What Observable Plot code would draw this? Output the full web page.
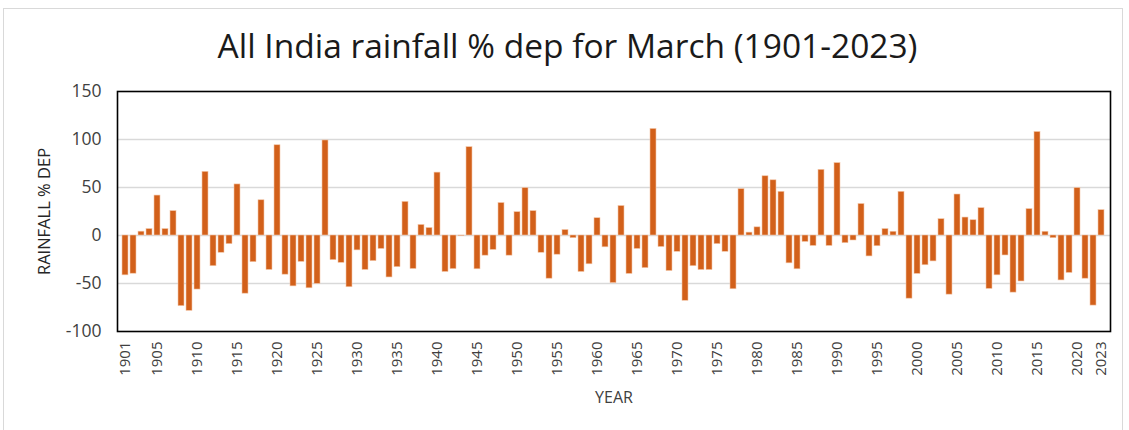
<!DOCTYPE html>
<html>
<head>
<meta charset="utf-8">
<script src="https://cdn.jsdelivr.net/npm/d3@7"></script>
<script src="https://cdn.jsdelivr.net/npm/@observablehq/plot@0.6"></script>
<style>
  html, body { margin: 0; padding: 0; background: #fff; }
  #wrap { position: relative; width: 1129px; height: 430px; overflow: hidden; }
  #border { position: absolute; left: 3px; top: 8px; width: 1120px; height: 440px; border: 1.5px solid #d9d9d9; box-sizing: border-box; }
  #chart { position: absolute; left: 0; top: 0; }
</style>
</head>
<body>
<div id="wrap"><div id="border"></div><div id="chart"></div></div>
<script>
const firstYear = 1901;
const lastYear = 2023;
const years = d3.range(firstYear, lastYear + 1);
const rainfallDep = [
  -41.5, -39.8, 4, 6.7, 41.6, 6.7, 25.4, -73.6, -78.5, -56.3,
  66.3, -32, -18, -9, 53.2, -60.6, -27.8, 36.7, -35.9, 94,
  -40.8, -53, -27.5, -55, -50.4, 99, -25.7, -28.5, -53.9, -15.5,
  -35.9, -26.7, -14, -43.7, -33, 35, -34.9, 11, 7.8, 65.5,
  -38, -35, -0.5, 92, -35.2, -21, -15, 33.8, -21, 24.3,
  49.4, 25.4, -18, -45, -20, 5.7, -2.8, -38, -30, 18,
  -12.3, -49.6, 30.7, -40, -14, -34, 111, -12, -37, -17,
  -68, -32, -36, -36, -9, -17, -56, 48.3, 3, 8.5,
  61.7, 57.5, 45.5, -29, -35.2, -6.7, -10.9, 68.4, -10.9, 75.4,
  -8, -5.2, 32.8, -21.8, -11.2, 6.7, 3.9, 45.5, -65.8, -40,
  -31, -27, 17, -61.6, 42.7, 18.7, 15.9, 28.5, -55.6, -41.5,
  -20.8, -59.5, -47.9, 27.5, 107.8, 3.9, -2.8, -46.8, -39, 49.4,
  -45, -73, 26.4
];
const xTickYears = [1901, 1905, 1910, 1915, 1920, 1925, 1930, 1935, 1940, 1945, 1950, 1955, 1960, 1965, 1970, 1975, 1980, 1985, 1990, 1995, 2000, 2005, 2010, 2015, 2020, 2023];
const yTicks = [-100, -50, 0, 50, 100, 150];
const gridValues = [-50, 0, 50, 100];
const titleText = "All India rainfall % dep for March (1901-2023)";
const yLabel = "RAINFALL % DEP";
const xLabel = "YEAR";

const data = years.map((y, i) => ({year: y, value: rainfallDep[i]}));

const chart = Plot.plot({
  width: 1129,
  height: 430,
  marginTop: 91,
  marginBottom: 99,
  marginLeft: 117,
  marginRight: 19,
  style: {fontFamily: "'Open Sans', sans-serif", fontSize: "15px", color: "#404040", background: "transparent"},
  x: {type: "band", domain: years, padding: 0.22, label: null},
  y: {domain: [-100, 150], label: null},
  marks: [
    Plot.gridY(gridValues, {stroke: "#d9d9d9", strokeOpacity: 1, strokeWidth: 1.3}),
    Plot.barY(data, {x: "year", y: "value", fill: "#d2601a", stroke: "#f3c6a8", strokeWidth: 0.6}),
    Plot.axisY({ticks: yTicks, tickFormat: d => String(d), tickSize: 0, tickPadding: 16, fontSize: 17.5, label: null}),
    Plot.axisX({ticks: xTickYears, tickFormat: d => String(d), tickSize: 0, tickRotate: -90, tickPadding: 10, fontSize: 15, label: null}),
    Plot.frame({stroke: "#000", strokeWidth: 1.6}),
    Plot.text([yLabel], {frameAnchor: "left", dx: -73, rotate: -90, textAnchor: "middle", lineAnchor: "middle", fontSize: 16.5, fill: "#262626", text: d => d}),
    Plot.text([xLabel], {frameAnchor: "bottom", dy: 66, textAnchor: "middle", lineAnchor: "middle", fontSize: 16, fill: "#404040", text: d => d}),
    Plot.text([titleText], {frameAnchor: "top", dy: -44, dx: -46.5, textAnchor: "middle", lineAnchor: "middle", fontSize: 33.5, fill: "#1a1a1a", text: d => d})
  ]
});
document.getElementById("chart").appendChild(chart);
</script>
</body>
</html>
